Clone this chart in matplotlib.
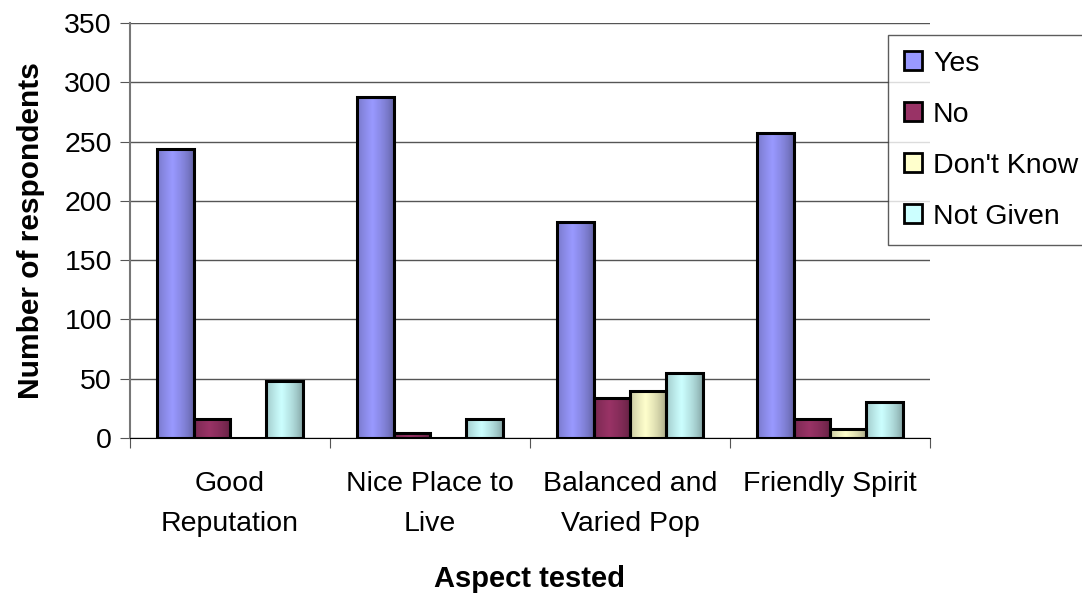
import matplotlib.pyplot as plt
import numpy as np
from matplotlib.colors import to_rgb
from matplotlib.patches import Patch

plt.rcParams['font.family'] = ['Liberation Sans', 'DejaVu Sans']

# survey results per aspect
aspects = ['Good\nReputation', 'Nice Place to\nLive', 'Balanced and\nVaried Pop', 'Friendly Spirit']
series = ['Yes', 'No', "Don't Know", 'Not Given']
yes = [244, 288, 182, 257]
no = [16, 4, 34, 16]
dont_know = [0, 0, 40, 8]
not_given = [48, 16, 55, 30]
colors = ['#9999FF', '#993366', '#FFFFCC', '#CCFFFF']


def shade(color, n=64):
    # horizontal gradient: dark at the edges, brightest just left of centre
    t = np.linspace(0, 1, n)
    f = 0.6 + 0.4 * np.clip(1 - np.abs(t - 0.42) / 0.58, 0, 1) ** 0.6
    rgb = np.array(to_rgb(color))
    return (f[:, None] * rgb[None, :])[None, :, :]


fig = plt.figure(figsize=(10.82, 5.94), dpi=100)
ax = fig.add_axes([130 / 1082, 1 - 438 / 594, 800 / 1082, 415 / 594])

x = np.arange(len(aspects))
width = 1 / 5.5
values = [yes, no, dont_know, not_given]
for i, (vals, c) in enumerate(zip(values, colors)):
    pos = x - 1.5 * width + i * width
    bars = ax.bar(pos, vals, width, facecolor='none', edgecolor='black', linewidth=2.2, zorder=3)
    for b in bars:
        h = b.get_height()
        if h <= 0:
            continue
        ax.imshow(shade(c), extent=(b.get_x(), b.get_x() + b.get_width(), 0, h),
                  aspect='auto', zorder=2, interpolation='bilinear')

ax.set_xlim(-0.5, len(aspects) - 0.5)
ax.set_ylim(0, 350)
ax.set_yticks(range(0, 351, 50))
ax.yaxis.grid(True, color='#555555', linewidth=1)
ax.set_axisbelow(True)

ax.set_xticks(np.arange(-0.5, len(aspects), 1))
ax.set_xticklabels([])
ax.set_xticks(x, minor=True)
ax.set_xticklabels(aspects, minor=True, linespacing=1.7)
ax.tick_params(axis='x', which='minor', length=0, pad=24, labelsize=20.5)
ax.tick_params(axis='x', which='major', length=7, color='#555555', direction='out')
ax.tick_params(axis='y', length=7, color='#555555', direction='out', labelsize=20.5, pad=6)

for s in ['top', 'right']:
    ax.spines[s].set_visible(False)
ax.spines['left'].set_color('#777777')
ax.spines['left'].set_linewidth(1.5)
ax.spines['bottom'].set_color('black')

ax.set_xlabel('Aspect tested', fontsize=21, fontweight='bold', va='center')
ax.xaxis.set_label_coords(0.5, (438 - 579) / 415)
ax.set_ylabel('Number of respondents', fontsize=21.5, fontweight='bold', labelpad=14)

handles = [Patch(facecolor=c, edgecolor='black', linewidth=2) for c in colors]
leg = fig.legend(handles, series, loc='upper left',
                 bbox_to_anchor=(888 / 1082, 1 - 35 / 594), fontsize=20.5,
                 frameon=True, fancybox=False, borderaxespad=0,
                 handlelength=0.63, handleheight=0.63, handletextpad=0.4,
                 labelspacing=0.88, borderpad=0.55)
leg.get_frame().set_edgecolor('#333333')
leg.get_frame().set_linewidth(1)

fig.savefig('out.png', dpi=100)
